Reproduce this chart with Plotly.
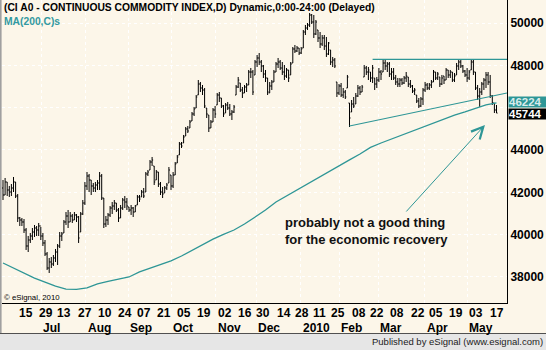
import plotly.graph_objects as go

# ---------------- data ----------------
opens = [42204, 41873, 42488, 42110, 42015, 42204, 42488, 41826, 40787, 40692,
         40598, 40220, 39464, 39747, 39936, 40125, 40314, 40220, 40409, 39936,
         39606, 39086, 38424, 38708, 38613, 38897, 39180, 39464, 39936, 40078,
         40598, 40881, 40598, 40881, 40692, 40929, 40834, 40125, 40976, 41495,
         42299, 42771, 42582, 42299, 42204, 42346, 42441, 42771, 41731, 40503,
         40692, 40929, 41259, 41354, 41495, 41165, 40787, 41259, 41637, 41543,
         41306, 41165, 41259, 41070, 41401, 41779, 41779, 42015, 42015, 42866,
         43055, 43432, 43243, 42582, 42960, 42393, 42015, 41968, 42204, 42441,
         42818, 42299, 42818, 43385, 43763, 44283, 44330, 44661, 44992, 45039,
         45370, 45701, 45984, 46598, 47118, 46929, 46835, 45984, 45653, 45039,
         45323, 45890, 46126, 46598, 46457, 46079, 45748, 46126, 45984, 45701,
         45795, 46598, 46976, 47165, 46835, 46693, 46976, 47071, 47685, 47685,
         47544, 48157, 48347, 48157, 47969, 47590, 47402, 46693, 47024, 47213,
         47685, 48063, 48157, 47874, 47685, 47496, 47780, 47544, 48110, 48772,
         48677, 48819, 48583, 48819, 49575, 49764, 49906, 50378, 50047, 49481,
         49670, 49292, 49008, 49292, 48913, 48536, 48725, 48157, 48252, 47213,
         46693, 47024, 46598, 46740, 46929, 46220, 45795, 46173, 46173, 46551,
         46929, 46740, 47449, 47874, 47685, 47685, 47402, 47402, 47118, 47307,
         47685, 47685, 48110, 47969, 48063, 47590, 47685, 47402, 47213, 47118,
         47307, 47165, 47402, 47449, 47118, 47024, 46787, 46598, 46315, 46079,
         46409, 46835, 47071, 46929, 47071, 47213, 47685, 47402, 47449, 47118,
         47496, 47307, 47780, 47544, 47685, 47307, 47544, 47969, 48157, 47969,
         47732, 47544, 47402, 47780, 48157, 47685, 46929, 46551, 46740, 47118,
         47307, 47544, 47213, 46551, 46220, 45890]
highs = [42582, 42677, 42488, 42299, 42393, 42724, 42488, 41921, 40834, 40787,
         40739, 40314, 39936, 40078, 40314, 40456, 40409, 40551, 40362, 40078,
         39747, 39180, 38897, 38944, 39038, 39322, 39558, 40125, 40125, 40692,
         41070, 41165, 41070, 40976, 41070, 40976, 40881, 41070, 41637, 42488,
         42960, 42866, 42582, 42441, 42488, 42582, 42960, 42866, 41731, 40881,
         41023, 41354, 41543, 41637, 41495, 41259, 41401, 41731, 41826, 41731,
         41306, 41401, 41306, 41401, 41873, 41873, 42110, 42204, 42960, 43055,
         43527, 43669, 43243, 43055, 42960, 42488, 42252, 42299, 42441, 43196,
         42818, 42960, 43432, 43763, 44378, 44378, 44709, 45086, 45134, 45417,
         45795, 46032, 46598, 47307, 47213, 47071, 46929, 45984, 45653, 45417,
         45984, 46079, 46693, 46740, 46457, 46126, 46220, 46268, 46173, 45890,
         46126, 47071, 47449, 47165, 46976, 47071, 47165, 47780, 47874, 47780,
         48252, 48488, 48583, 48252, 48016, 47780, 47402, 47213, 47307, 47780,
         48157, 48347, 48252, 48157, 48016, 47874, 47780, 48157, 48866, 48961,
         48913, 48819, 48866, 49670, 49906, 50000, 50473, 50425, 50378, 50142,
         49670, 49575, 49433, 49433, 49339, 49102, 48725, 48394, 48347, 47213,
         47118, 47165, 46929, 46835, 47544, 46220, 46362, 46504, 46693, 47071,
         47024, 47071, 48016, 47969, 47921, 47685, 48016, 47402, 47449, 47874,
         47780, 48252, 48252, 48157, 48157, 47874, 47874, 47544, 47402, 47402,
         47402, 47496, 47685, 47449, 47307, 47071, 46929, 46598, 46457, 46504,
         46929, 47213, 47165, 47165, 47307, 47780, 47685, 47685, 47449, 47544,
         47496, 47874, 47780, 47780, 47685, 47638, 48110, 48252, 48252, 48016,
         47780, 47874, 47780, 48252, 48252, 47685, 47071, 46929, 47213, 47402,
         47685, 47685, 47544, 46598, 46220, 46126]
lows = [41637, 41873, 41826, 41779, 41826, 42015, 41731, 40598, 40409, 40409,
        40078, 39275, 39180, 39606, 39747, 39889, 39936, 39936, 39747, 39464,
        38991, 38330, 38188, 38424, 38519, 38708, 38566, 39369, 39700, 40078,
        40456, 40314, 40598, 40551, 40692, 40598, 39606, 40125, 40929, 41401,
        42110, 42015, 41873, 42015, 42015, 42110, 42110, 41637, 40314, 40362,
        40456, 40834, 40976, 41165, 41070, 40598, 40787, 41165, 41259, 41165,
        41070, 40929, 40834, 41070, 41401, 41543, 41779, 41731, 42015, 42771,
        43055, 43243, 42346, 42582, 42252, 41873, 41731, 41968, 42110, 42441,
        42110, 42204, 42818, 43385, 43763, 44094, 44330, 44661, 44803, 45039,
        45370, 45606, 45984, 46598, 46740, 46598, 45984, 45512, 44850, 45039,
        45323, 45512, 46126, 46268, 45984, 45559, 45748, 45890, 45606, 45417,
        45748, 46598, 46929, 46740, 46457, 46693, 46740, 47071, 47402, 46598,
        47544, 47921, 48016, 47685, 47402, 47213, 46598, 46693, 46835, 47213,
        47685, 47874, 47780, 47544, 47307, 47402, 47213, 47544, 48110, 48583,
        48630, 48488, 48536, 48819, 49433, 49670, 49811, 49953, 49292, 49433,
        49102, 48819, 48913, 48725, 48394, 48488, 48016, 47921, 47874, 46504,
        46598, 46504, 46457, 46409, 46929, 45086, 45795, 45984, 46173, 46504,
        46598, 46740, 47449, 47544, 47307, 47213, 47165, 46835, 46929, 47213,
        47307, 47685, 47780, 47685, 47449, 47307, 47307, 47071, 46976, 46976,
        47071, 47118, 47213, 46976, 46929, 46693, 46598, 46220, 45984, 46032,
        46126, 46740, 46835, 46835, 46929, 47213, 47307, 47307, 46976, 47071,
        47118, 47307, 47402, 47402, 47213, 47213, 47544, 47780, 47874, 47638,
        47449, 47213, 47307, 47780, 47544, 46835, 46362, 46032, 46598, 46835,
        46929, 47071, 46457, 46126, 45748, 45748]
closes = [41873, 42488, 42110, 42015, 42204, 42488, 41826, 40787, 40692, 40598,
          40220, 39464, 39747, 39936, 40125, 40314, 40220, 40409, 39936, 39606,
          39086, 38424, 38708, 38613, 38897, 39180, 39464, 39936, 40031, 40598,
          40881, 40598, 40881, 40692, 40929, 40834, 39842, 40976, 41495, 42299,
          42771, 42582, 42299, 42204, 42346, 42441, 42771, 41731, 40503, 40692,
          40929, 41259, 41354, 41495, 41165, 40787, 41259, 41637, 41543, 41354,
          41165, 41259, 41070, 41354, 41779, 41684, 42015, 41826, 42866, 42960,
          43432, 43527, 42488, 42960, 42393, 42015, 41921, 42204, 42346, 43055,
          42299, 42818, 43338, 43669, 44283, 44189, 44614, 44992, 44898, 45323,
          45701, 45937, 46504, 47118, 46929, 46835, 46079, 45701, 45039, 45323,
          45890, 45701, 46598, 46457, 46079, 45701, 46126, 45984, 45701, 45795,
          46032, 46976, 47307, 46835, 46693, 46976, 47071, 47685, 47685, 46740,
          48157, 48347, 48157, 47969, 47590, 47402, 46740, 47024, 47213, 47685,
          48063, 48157, 47874, 47685, 47496, 47780, 47402, 48063, 48772, 48677,
          48819, 48583, 48772, 49575, 49764, 49906, 50378, 50047, 49481, 50047,
          49292, 49008, 49292, 48913, 48536, 49055, 48157, 48252, 47969, 46693,
          47024, 46598, 46740, 46504, 47449, 45512, 46173, 46079, 46551, 46929,
          46740, 46976, 47874, 47685, 47780, 47402, 47874, 47118, 47307, 47685,
          47590, 48110, 47969, 48063, 47590, 47685, 47402, 47213, 47118, 47307,
          47165, 47402, 47496, 47118, 47024, 46787, 46835, 46315, 46079, 46409,
          46835, 47071, 46929, 47071, 47213, 47685, 47402, 47590, 47118, 47402,
          47307, 47780, 47544, 47685, 47307, 47496, 47969, 48157, 47969, 47732,
          47544, 47402, 47685, 48157, 47685, 46929, 46551, 46740, 47118, 47307,
          47544, 47213, 46551, 46220, 45890, 45744]
bar_index = list(range(len(closes)))

# 200-day moving average, read every 5th bar
ma_index = list(range(0, 236, 5))
ma_values = [38660, 38420, 38160, 37950, 37760, 37570, 37430, 37410, 37480, 37670,
             37790, 37880, 38000, 38240, 38420, 38590, 38760, 38990, 39270, 39510,
             39790, 40010, 40220, 40500, 40830, 41160, 41540, 41830, 42110, 42390,
             42680, 42960, 43240, 43530, 43810, 44120, 44330, 44520, 44710, 44900,
             45090, 45280, 45460, 45650, 45800, 45960, 46130, 46224]

day_labels = ["15", "29", "13", "27", "10", "24", "07", "21", "05", "19", "02", "16", "30",
              "14", "28", "11", "25", "08", "22", "08", "22", "05", "19", "03", "17"]
day_pos = [6.5, 16.2, 24.9, 34.6, 44.2, 53.9, 63.0, 72.3, 81.9, 91.6, 101.3, 110.9, 119.6,
           129.3, 138.0, 146.7, 155.4, 165.1, 173.8, 183.4, 193.1, 201.8, 211.5, 221.1, 230.8]
month_labels = ["Jul", "Aug", "Sep", "Oct", "Nov", "Dec", "2010", "Feb", "Mar", "Apr", "May"]
month_pos = [18.1, 39.4, 59.7, 80.0, 101.3, 120.6, 141.9, 160.2, 178.6, 200.8, 221.1]

y_ticks = [38000, 40000, 42000, 44000, 46000, 48000, 50000]
y_ticktext = ["38000", "40000", "42000", "44000", "", "48000", "50000"]  # 46000 hidden by price tags
last_ma = 46224
last_close = 45744

# analyst drawings
resistance_level = 48285
resistance_start = 176
trend_x = [165, 240]
trend_y = [45133, 46693]
arrow_tail = (191.4, 41023)
arrow_tip = (229.5, 45181)

# ---------------- styling ----------------
W, H = 546, 350
L, R, T, B = 2, 39, 0, 47
PW, PH = W - L - R, H - T - B
BG = "#FCF6E9"
TEAL = "#2E9696"
FONT = "Liberation Sans"


def px(x):
    return (x - L) / PW


def py(y):
    return 1 - (y - T) / PH


fig = go.Figure()
fig.add_trace(go.Ohlc(
    x=bar_index, open=opens, high=highs, low=lows, close=closes,
    increasing=dict(line=dict(color="black", width=1)),
    decreasing=dict(line=dict(color="black", width=1)),
    tickwidth=0.5, showlegend=False, hoverinfo="skip"))
fig.add_trace(go.Scatter(
    x=ma_index, y=ma_values, mode="lines",
    line=dict(color=TEAL, width=1.3), showlegend=False, hoverinfo="skip"))

shapes = [
    dict(type="line", xref="x", yref="y", x0=resistance_start, x1=trend_x[1],
         y0=resistance_level, y1=resistance_level, line=dict(color=TEAL, width=1.2)),
    dict(type="line", xref="x", yref="y", x0=trend_x[0], x1=trend_x[1],
         y0=trend_y[0], y1=trend_y[1], line=dict(color=TEAL, width=1.2)),
    # bottom strip
    dict(type="rect", xref="paper", yref="paper", x0=px(0), x1=px(W),
         y0=py(333), y1=py(H), fillcolor="#E6E6E6", line=dict(width=0), layer="above"),
    dict(type="line", xref="paper", yref="paper", x0=px(0), x1=px(W),
         y0=py(333.5), y1=py(333.5), line=dict(color="#505050", width=1)),
    # left border
    dict(type="line", xref="paper", yref="paper", x0=px(0.8), x1=px(0.8),
         y0=py(0), y1=py(333), line=dict(color="#A0A0A0", width=1.6)),
]

ann = []
ann.append(dict(xref="paper", yref="paper", x=px(2), y=py(8), xanchor="left", yanchor="middle",
                text="(CI A0 - CONTINUOUS COMMODITY INDEX,D) Dynamic,0:00-24:00 (Delayed)",
                showarrow=False, font=dict(family=FONT, size=10.3, color="black", weight="bold")))
ann.append(dict(xref="paper", yref="paper", x=px(2), y=py(21), xanchor="left", yanchor="middle",
                text="MA(200,C)s", showarrow=False,
                font=dict(family=FONT, size=10.3, color="#3399A0", weight="bold")))
ann.append(dict(xref="paper", yref="paper", x=px(2), y=py(297), xanchor="left", yanchor="middle",
                text="© eSignal, 2010", showarrow=False,
                font=dict(family=FONT, size=7.8, color="black")))
ann.append(dict(xref="paper", yref="paper", x=px(283), y=py(231), xanchor="left", yanchor="middle",
                align="left", text="probably not a good thing<br>for the economic recovery",
                showarrow=False, font=dict(family=FONT, size=13, color="#111111", weight="bold")))
ann.append(dict(xref="x", yref="y", x=arrow_tip[0], y=arrow_tip[1], ax=arrow_tail[0], ay=arrow_tail[1],
                axref="x", ayref="y", text="", showarrow=True, arrowhead=5, arrowsize=2.3,
                arrowwidth=1, arrowcolor=TEAL, standoff=0, startstandoff=0))
for lab, pos in zip(day_labels, day_pos):
    ann.append(dict(xref="x", yref="paper", x=pos, y=py(313), xanchor="left", yanchor="middle",
                    text=lab, showarrow=False,
                    font=dict(family=FONT, size=12, color="black", weight="bold")))
for lab, pos in zip(month_labels, month_pos):
    ann.append(dict(xref="x", yref="paper", x=pos, y=py(328), xanchor="left", yanchor="middle",
                    text=lab, showarrow=False,
                    font=dict(family=FONT, size=12, color="black", weight="bold")))
# price tags
ann.append(dict(xref="paper", yref="y", x=px(508), y=last_ma, xanchor="left", yanchor="middle",
                yshift=1, text=f"{last_ma}", showarrow=False, bgcolor=TEAL, width=38, height=10,
                borderpad=0, align="left",
                font=dict(family=FONT, size=11.5, color="#D8ECEC", weight="bold")))
ann.append(dict(xref="paper", yref="y", x=px(508), y=last_close, xanchor="left", yanchor="middle",
                yshift=-1, text=f"{last_close}", showarrow=False, bgcolor="black", width=38, height=10,
                borderpad=0, align="left",
                font=dict(family=FONT, size=11.5, color="white", weight="bold")))
ann.append(dict(xref="paper", yref="paper", x=px(545), y=py(341.5), xanchor="right", yanchor="middle",
                text="Published by eSignal (www.esignal.com)", showarrow=False,
                font=dict(family=FONT, size=9.5, color="#222222")))

fig.update_layout(
    width=W, height=H, margin=dict(l=L, r=R, t=T, b=B, pad=0),
    paper_bgcolor=BG, plot_bgcolor=BG, shapes=shapes, annotations=ann,
    showlegend=False,
    xaxis=dict(range=[-0.476, 240.0], tickvals=month_pos, showticklabels=False, ticks="",
               showgrid=True, gridcolor="white", griddash="dot", gridwidth=1,
               zeroline=False, showline=True, linecolor="black", linewidth=1,
               rangeslider=dict(visible=False), fixedrange=True),
    yaxis=dict(range=[36770, 51087], side="right", tickvals=y_ticks,
               ticktext=y_ticktext, ticks="",
               tickfont=dict(family=FONT, size=12, color="black", weight="bold"),
               showgrid=True, gridcolor="white", griddash="dot", gridwidth=1,
               zeroline=False, showline=True, linecolor="black", linewidth=1, fixedrange=True),
)

fig.write_html("out.html")
